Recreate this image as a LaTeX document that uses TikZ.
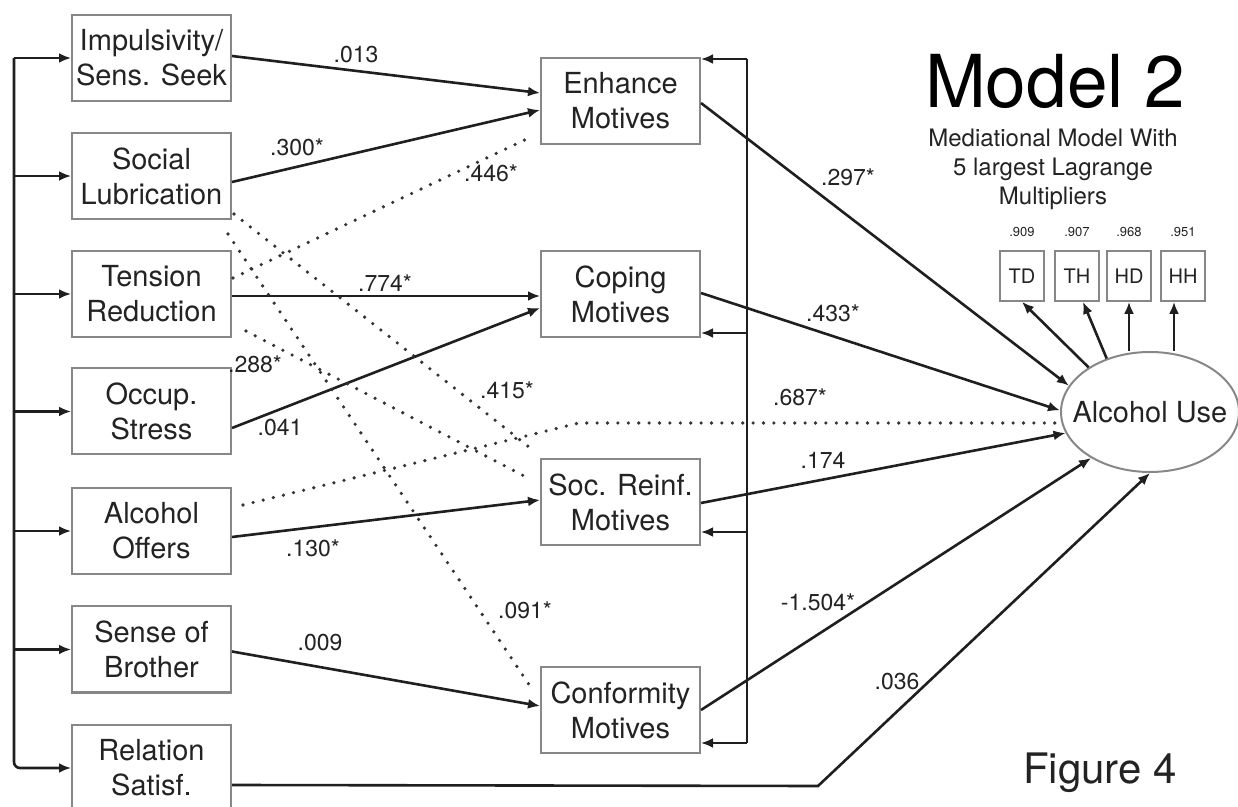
\documentclass[tikz,border=0pt]{standalone}
\usepackage{fontspec}
\setmainfont{TeX Gyre Heros}
\usetikzlibrary{arrows.meta,calc,shapes.geometric}
\definecolor{boxgray}{RGB}{135,135,135}
\definecolor{txt}{RGB}{35,35,35}
\begin{document}
\begin{tikzpicture}[x=0.5pt,y=-0.5pt,
  box/.style={draw=boxgray, line width=1pt, minimum width=79.5pt, minimum height=43pt, inner sep=0pt, align=center, font=\fontsize{14.5}{17.5}\selectfont, text=txt},
  sbox/.style={draw=boxgray, line width=0.9pt, minimum width=22pt, minimum height=25pt, inner sep=0pt, font=\fontsize{10}{12}\selectfont, text=txt},
  ell/.style={ellipse, draw=boxgray, line width=1pt, minimum width=89pt, minimum height=60pt, inner sep=0pt},
  conn/.style={line width=1.3pt, draw=black!88},
  arr/.style={conn, -{Latex[length=6pt,width=5pt]}},
  dotline/.style={line width=1.8pt, draw=black!80, dash pattern=on 0pt off 5.2pt, line cap=round},
  lab/.style={font=\fontsize{11.5}{13}\selectfont, inner sep=0pt, text=txt},
  tinylab/.style={font=\fontsize{6.5}{8}\selectfont, inner sep=0pt, text=txt}
]
\useasboundingbox (0,0) rectangle (1238,807);

% left boxes
\node[box] (imp) at (151.5,58) {Impulsivity/\\Sens. Seek};
\node[box] (soc) at (151.5,176) {Social\\Lubrication};
\node[box] (ten) at (151.5,294) {Tension\\Reduction};
\node[box] (occ) at (151.5,411.5) {Occup.\\Stress};
\node[box] (aof) at (151.5,531) {Alcohol\\Offers};
\node[box] (sob) at (151.5,649.5) {Sense of\\Brother};
\node[box] (rel) at (151.5,768) {Relation\\Satisf.};

% middle boxes
\node[box] (enh) at (620.5,101) {Enhance\\Motives};
\node[box] (cop) at (620.5,294) {Coping\\Motives};
\node[box] (srm) at (620.5,502) {Soc. Reinf.\\Motives};
\node[box] (con) at (620.5,710) {Conformity\\Motives};

% outcome
\node[ell, label={[font=\fontsize{14.5}{17}\selectfont, text=txt, inner sep=0pt]center:Alcohol Use}] (use) at (1150,412) {};

% indicators
\node[sbox] (td) at (1022,276) {TD};
\node[sbox] (th) at (1077,276) {TH};
\node[sbox] (hd) at (1129,276) {HD};
\node[sbox] (hh) at (1183,276) {HH};
\node[tinylab] at ($(td.north)+(0,-18)$) {.909};
\node[tinylab] at ($(th.north)+(0,-18)$) {.907};
\node[tinylab] at ($(hd.north)+(0,-18)$) {.968};
\node[tinylab] at ($(hh.north)+(0,-18)$) {.951};

% titles
\node[font=\fontsize{36.5}{40}\selectfont, inner sep=0pt] (title) at (1055,81) {Model 2};
\node[font=\fontsize{12}{14.5}\selectfont, align=center, inner sep=0pt, text=txt] (sub) at (1053,169) {Mediational Model With\\5 largest Lagrange\\Multipliers};
\node[font=\fontsize{21}{24}\selectfont, anchor=base, inner sep=0pt, text=txt] (fig) at (1100,783) {Figure 4};

% left bracket
\coordinate (xl) at (14,0);
\draw[arr, rounded corners=3pt] (imp.west -| xl) |- (rel.west);
\foreach \n in {imp,soc,ten,occ,aof,sob} \draw[arr] (\n.west -| xl) -- (\n.west);

% right bracket
\coordinate (xr) at (747,0);
\coordinate (r1) at ($(enh.north east)+(0,2)$);
\coordinate (r2) at ($(cop.south east)+(0,-5)$);
\coordinate (r3) at ($(srm.south east)+(0,-14)$);
\coordinate (r4) at ($(con.south east)+(0,-11)$);
\draw[conn] (r1 -| xr) -- (r4 -| xr);
\foreach \r in {r1,r2,r3,r4} \draw[arr] (\r -| xr) -- (\r);

% predictors -> motives
\draw[arr] ($(imp.east)+(0,-2)$) -- ($(enh.west)+(0,-8)$);
\draw[arr] ($(soc.east)+(0,6)$) -- ($(enh.west)+(0,9)$);
\draw[dotline] ($(ten.east)+(1,-16)$) -- ($(enh.west)+(-9,36)$);
\draw[arr] ($(ten.east)+(0,2)$) -- ($(cop.west)+(0,2)$);
\draw[arr] ($(occ.east)+(0,16.5)$) -- ($(cop.west)+(0,14)$);
\draw[dotline] ($(soc.south east)+(2,-6)$) -- ($(srm.north west)+(-11,-11)$);
\draw[dotline] ($(soc.south east)+(-4,14)$) -- ($(con.north west)+(-6,26)$);
\draw[dotline] ($(ten.south east)+(14,-7)$) -- ($(srm.west)+(-14,-25)$);
\draw[dotline] ($(aof.east)+(11,-26)$) -- ($(use.west)+(-481,11)$) -- ($(use.west)+(-5,11)$);
\draw[arr] ($(aof.east)+(0,6)$) -- ($(srm.west)+(0,-2)$);
\draw[arr] ($(sob.east)+(0,2)$) -- ($(con.west)+(0,-4)$);
\draw[arr] ($(rel.east)+(0,17)$) -- ($(use.south)+(-332,313)$) -- (use.south);

% motives -> alcohol use
\draw[arr] ($(enh.east)+(0,2)$) -- (use.162);
\draw[arr] ($(cop.east)+(0,-1)$) -- (use.179);
\draw[arr] ($(srm.east)+(0,1)$) -- (use.194);
\draw[arr] (con.east) -- (use.218);

% alcohol use -> indicators
\coordinate (hhx) at ($(hh.south)+(-9,0)$);
\draw[arr] (use.144) -- (td.south);
\draw[arr] (use.129) -- ($(th.south)+(6,0)$);
\draw[arr] (hd.south |- use.north) -- (hd.south);
\draw[arr] (hhx |- use.north) -- (hhx);

% path labels
\node[lab] at (356,55) {.013};
\node[lab] at (297,147) {.300*};
\node[lab] at (491,173) {.446*};
\node[lab] at (385,283) {.774*};
\node[lab] at (255,364) {.288*};
\node[lab] at (280,428) {.041};
\node[lab] at (507,390) {.415*};
\node[lab] at (800,397) {.687*};
\node[lab] at (313,548) {.130*};
\node[lab] at (823,460) {.174};
\node[lab] at (525,610) {.091*};
\node[lab] at (320,643) {.009};
\node[lab] at (818,602) {-1.504*};
\node[lab] at (897,682) {.036};
\node[lab] at (848,177) {.297*};
\node[lab] at (833,313) {.433*};
\end{tikzpicture}
\end{document}
